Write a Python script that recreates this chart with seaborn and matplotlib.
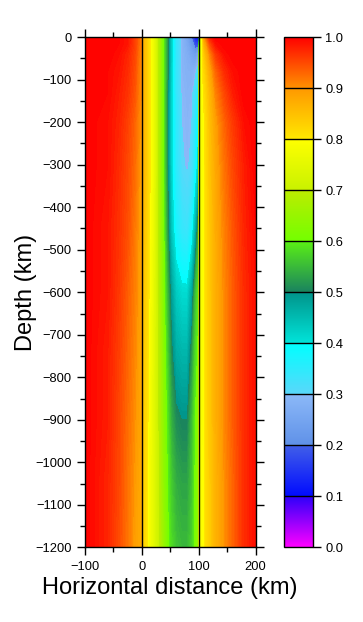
import numpy as np
import matplotlib
matplotlib.use("Agg")
import matplotlib.pyplot as plt
import seaborn as sns
from matplotlib.colors import LinearSegmentedColormap, Normalize
from matplotlib.cm import ScalarMappable
from matplotlib.ticker import MultipleLocator

sns.set_theme(style="ticks")
plt.rcParams['font.family'] = ['Liberation Sans', 'DejaVu Sans']
plt.rcParams['text.color'] = 'black'
plt.rcParams['axes.labelcolor'] = 'black'
plt.rcParams['xtick.color'] = 'black'
plt.rcParams['ytick.color'] = 'black'
plt.rcParams['axes.edgecolor'] = 'black'

# ---- data ----
depth_km = [0, -15, -40, -80, -130, -200, -300, -450, -600, -750, -900, -1050, -1200]

x_left = [-100, -60, -40, -25, -12, -1]
left_rows = [
    [1.0, 1.0, 0.995, 0.985, 0.955, 0.91],
    [1.0, 1.0, 0.995, 0.985, 0.955, 0.91],
    [1.0, 1.0, 0.99, 0.975, 0.95, 0.905],
    [1.0, 0.995, 0.985, 0.97, 0.945, 0.9],
    [1.0, 0.995, 0.98, 0.965, 0.94, 0.9],
    [1.0, 0.99, 0.975, 0.955, 0.93, 0.895],
    [1.0, 0.99, 0.97, 0.95, 0.925, 0.89],
    [1.0, 0.985, 0.965, 0.945, 0.915, 0.885],
    [1.0, 0.985, 0.96, 0.935, 0.91, 0.885],
    [1.0, 0.98, 0.955, 0.93, 0.905, 0.88],
    [1.0, 0.98, 0.95, 0.925, 0.9, 0.88],
    [1.0, 0.975, 0.95, 0.92, 0.895, 0.875],
    [1.0, 0.975, 0.945, 0.92, 0.89, 0.875],
]

x_mid = [1, 10, 20, 30, 38, 45, 52, 60, 70, 80, 88, 94, 99.5]
mid_rows = [
    [0.87, 0.83, 0.77, 0.68, 0.60, 0.52, 0.42, 0.34, 0.29, 0.25, 0.19, 0.12, 0.10],
    [0.87, 0.83, 0.77, 0.68, 0.60, 0.52, 0.42, 0.34, 0.29, 0.26, 0.22, 0.17, 0.17],
    [0.87, 0.83, 0.77, 0.68, 0.60, 0.52, 0.42, 0.34, 0.29, 0.27, 0.25, 0.23, 0.26],
    [0.87, 0.83, 0.77, 0.68, 0.60, 0.52, 0.41, 0.34, 0.29, 0.28, 0.28, 0.29, 0.32],
    [0.87, 0.83, 0.77, 0.68, 0.60, 0.51, 0.41, 0.34, 0.295, 0.285, 0.29, 0.32, 0.36],
    [0.87, 0.83, 0.77, 0.68, 0.60, 0.51, 0.41, 0.35, 0.30, 0.29, 0.30, 0.34, 0.39],
    [0.87, 0.83, 0.77, 0.68, 0.60, 0.51, 0.41, 0.35, 0.305, 0.295, 0.31, 0.36, 0.42],
    [0.86, 0.82, 0.765, 0.68, 0.61, 0.52, 0.43, 0.37, 0.34, 0.33, 0.37, 0.45, 0.53],
    [0.85, 0.815, 0.76, 0.685, 0.62, 0.55, 0.48, 0.43, 0.41, 0.41, 0.47, 0.55, 0.59],
    [0.845, 0.81, 0.755, 0.69, 0.63, 0.57, 0.51, 0.47, 0.46, 0.46, 0.52, 0.58, 0.61],
    [0.84, 0.805, 0.75, 0.69, 0.635, 0.59, 0.54, 0.51, 0.50, 0.50, 0.55, 0.60, 0.63],
    [0.835, 0.80, 0.75, 0.695, 0.64, 0.60, 0.565, 0.54, 0.53, 0.53, 0.56, 0.605, 0.635],
    [0.83, 0.80, 0.75, 0.70, 0.65, 0.61, 0.58, 0.56, 0.55, 0.55, 0.57, 0.61, 0.64],
]

x_right = [100.5, 104, 110, 120, 130, 145, 160, 180, 200]
right_rows = [
    [0.45, 0.76, 0.90, 0.98, 1.0, 1.0, 1.0, 1.0, 1.0],
    [0.58, 0.76, 0.87, 0.95, 0.99, 1.0, 1.0, 1.0, 1.0],
    [0.66, 0.77, 0.84, 0.91, 0.96, 0.99, 1.0, 1.0, 1.0],
    [0.70, 0.78, 0.82, 0.88, 0.93, 0.97, 0.99, 1.0, 1.0],
    [0.72, 0.78, 0.81, 0.86, 0.91, 0.95, 0.98, 1.0, 1.0],
    [0.73, 0.78, 0.80, 0.85, 0.89, 0.93, 0.96, 0.99, 1.0],
    [0.74, 0.78, 0.80, 0.845, 0.88, 0.92, 0.95, 0.98, 1.0],
    [0.745, 0.78, 0.80, 0.84, 0.875, 0.91, 0.94, 0.975, 0.995],
    [0.75, 0.78, 0.80, 0.84, 0.87, 0.905, 0.935, 0.97, 0.99],
    [0.76, 0.785, 0.80, 0.84, 0.87, 0.905, 0.935, 0.97, 0.99],
    [0.765, 0.785, 0.80, 0.84, 0.87, 0.905, 0.935, 0.97, 0.99],
    [0.77, 0.79, 0.80, 0.835, 0.865, 0.90, 0.93, 0.97, 0.99],
    [0.775, 0.79, 0.80, 0.835, 0.865, 0.90, 0.93, 0.97, 0.99],
]

boundary_lines_km = [0, 100]
cbar_ticks = [0.0, 0.1, 0.2, 0.3, 0.4, 0.5, 0.6, 0.7, 0.8, 0.9, 1.0]
x_ticks = [-100, 0, 100, 200]
y_ticks = [0, -100, -200, -300, -400, -500, -600, -700, -800, -900, -1000, -1100, -1200]

# colour palette: one (start, end) colour per 0.1 step, GMT-style
seg_start = [(255, 0, 255), (0, 10, 255), (95, 145, 232), (90, 215, 250), (0, 228, 218),
             (25, 130, 95), (115, 255, 0), (200, 242, 0), (255, 232, 0), (255, 145, 0)]
seg_end = [(45, 0, 250), (65, 95, 232), (140, 185, 248), (0, 255, 255), (0, 148, 138),
           (90, 240, 20), (188, 236, 0), (255, 255, 0), (255, 152, 0), (255, 0, 0)]

# ---- build colormap ----
cdict = {'red': [], 'green': [], 'blue': []}
for ch, key in enumerate(['red', 'green', 'blue']):
    cdict[key].append((0.0, seg_start[0][ch] / 255, seg_start[0][ch] / 255))
    for i in range(1, 10):
        cdict[key].append((cbar_ticks[i], seg_end[i - 1][ch] / 255, seg_start[i][ch] / 255))
    cdict[key].append((1.0, seg_end[9][ch] / 255, seg_end[9][ch] / 255))
cmap = LinearSegmentedColormap('gmtrainbow', cdict, N=1024)
norm = Normalize(0, 1)

x_all = np.array(x_left + x_mid + x_right)
Z = np.hstack([np.array(left_rows), np.array(mid_rows), np.array(right_rows)])
D = np.array(depth_km)

fig = plt.figure(figsize=(3.63, 6.22), dpi=100)
ax = fig.add_axes([0.234, 0.1198, 0.470, 0.8207])
cax = fig.add_axes([0.781, 0.1198, 0.080, 0.8207])

levels = np.linspace(0, 1, 201)
ax.contourf(x_all, D, Z, levels=levels, cmap=cmap, norm=norm, antialiased=True)
ax.contourf(x_all, D, Z, levels=levels, cmap=cmap, norm=norm, antialiased=False)
for xb in boundary_lines_km:
    ax.axvline(xb, color='black', lw=1.0)

ax.set_xlim(-100, 200)
ax.set_ylim(-1200, 0)
ax.set_xticks(x_ticks)
ax.set_yticks(y_ticks)
ax.xaxis.set_minor_locator(MultipleLocator(50))
ax.yaxis.set_minor_locator(MultipleLocator(50))
ax.tick_params(which='both', direction='out', top=True, right=True, width=1.0, colors='black')
ax.tick_params(which='major', length=6, labelsize=9.3, pad=3.5)
ax.tick_params(which='minor', length=3.5)
for s in ax.spines.values():
    s.set_linewidth(1.0)
    s.set_color('black')
ax.set_xlabel('Horizontal distance (km)', fontsize=17, labelpad=3)
ax.set_ylabel('Depth (km)', fontsize=17, labelpad=-1)

cb = fig.colorbar(ScalarMappable(norm=norm, cmap=cmap), cax=cax, ticks=cbar_ticks)
cb.outline.set_linewidth(1.0)
cb.outline.set_edgecolor('black')
cax.tick_params(direction='out', length=6, width=1.0, labelsize=9.3, pad=3.2, colors='black')
cax.set_yticklabels([f"{t:.1f}" for t in cbar_ticks])
for t in cbar_ticks[1:-1]:
    cax.axhline(t, color='black', lw=1.0)

fig.savefig('out.png', dpi=100)
